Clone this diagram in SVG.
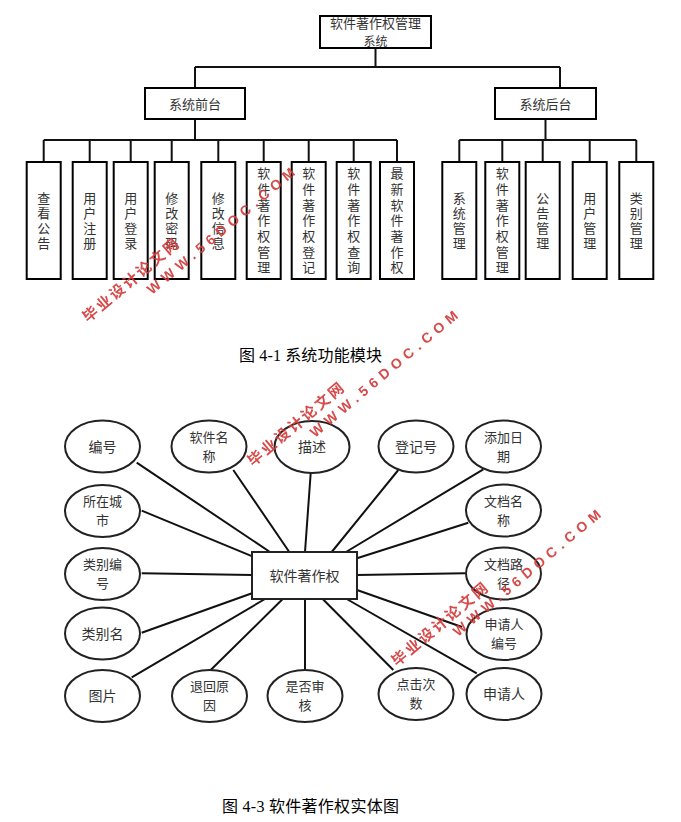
<svg xmlns="http://www.w3.org/2000/svg" width="681" height="822" viewBox="0 0 681 822">
<style>
.box{fill:#fff;stroke:#000;stroke-width:2}
.ell{fill:#fff;stroke:#222;stroke-width:2}
.ln{stroke:#111;stroke-width:2;fill:none}
.t{font-family:"Noto Sans CJK SC","Noto Sans",sans-serif;fill:#333;text-anchor:middle}
.t12{font-size:12px}
.t13{font-size:13px}
.t14{font-size:14px}
.v4{writing-mode:vertical-rl;letter-spacing:2px}
.v7{writing-mode:vertical-rl;letter-spacing:2.7px}
.cap{font-family:"Liberation Serif","Noto Sans CJK SC",serif;font-size:16px;fill:#000}
.wmc{font-family:"Noto Sans CJK SC",sans-serif;font-size:15px;font-weight:bold;fill:#d43a3a}
.wme{font-family:"Liberation Sans",sans-serif;font-size:14px;font-weight:bold;fill:#d43a3a}
</style>
<rect width="681" height="822" fill="#fff"/>

<g id="tree-connectors">
<path class="ln" d="M375.5 48V67M195 67H560M195 67V88M560 67V88"/>
<path class="ln" d="M195 119V140M43.7 140H397M43.7 140V162M89.7 140V162M130.7 140V162M171.7 140V162M218.3 140V162M263.7 140V162M308.7 140V162M353.7 140V162M397 140V162"/>
<path class="ln" d="M545.5 119V140M459.3 140H636.3M459.3 140V162M502.3 140V162M542.7 140V162M589.7 140V162M636.3 140V162"/>
</g>

<g id="root"><rect class="box" x="320" y="16" width="111" height="32"/>
<text class="t t13" x="375.5" y="28.3">软件著作权管理</text><text class="t t12" x="375.5" y="45.6">系统</text></g>
<g id="front"><rect class="box" x="145" y="88" width="100" height="31"/><text class="t t13" x="195" y="108.5">系统前台</text></g>
<g id="back"><rect class="box" x="495" y="88" width="101" height="31"/><text class="t t13" x="545.5" y="108.5">系统后台</text></g>

<g id="f1"><rect class="box" x="26.7" y="162" width="34" height="117"/><text class="t t13 v4" x="43.7" y="221.5">查看公告</text></g>
<g id="f2"><rect class="box" x="72.7" y="162" width="34" height="117"/><text class="t t13 v4" x="89.7" y="221.5">用户注册</text></g>
<g id="f3"><rect class="box" x="113.7" y="162" width="34" height="117"/><text class="t t13 v4" x="130.7" y="221.5">用户登录</text></g>
<g id="f4"><rect class="box" x="154.7" y="162" width="34" height="117"/><text class="t t13 v4" x="171.7" y="221.5">修改密码</text></g>
<g id="f5"><rect class="box" x="201.3" y="162" width="34" height="117"/><text class="t t13 v4" x="218.3" y="221.5">修改信息</text></g>
<g id="f6"><rect class="box" x="246.7" y="162" width="34" height="117"/><text class="t t13 v7" x="263.7" y="221.8">软件著作权管理</text></g>
<g id="f7"><rect class="box" x="291.7" y="162" width="34" height="117"/><text class="t t13 v7" x="308.7" y="221.8">软件著作权登记</text></g>
<g id="f8"><rect class="box" x="336.7" y="162" width="34" height="117"/><text class="t t13 v7" x="353.7" y="221.8">软件著作权查询</text></g>
<g id="f9"><rect class="box" x="380" y="162" width="34" height="117"/><text class="t t13 v7" x="397" y="221.8">最新软件著作权</text></g>

<g id="b1"><rect class="box" x="442.3" y="162" width="34" height="117"/><text class="t t13 v4" x="459.3" y="221.5">系统管理</text></g>
<g id="b2"><rect class="box" x="485.3" y="162" width="34" height="117"/><text class="t t13 v7" x="502.3" y="221.8">软件著作权管理</text></g>
<g id="b3"><rect class="box" x="525.7" y="162" width="34" height="117"/><text class="t t13 v4" x="542.7" y="221.5">公告管理</text></g>
<g id="b4"><rect class="box" x="572.7" y="162" width="34" height="117"/><text class="t t13 v4" x="589.7" y="221.5">用户管理</text></g>
<g id="b5"><rect class="box" x="619.3" y="162" width="34" height="117"/><text class="t t13 v4" x="636.3" y="221.5">类别管理</text></g>

<text id="cap1" class="cap" x="239" y="361" textLength="143" lengthAdjust="spacing">图 4-1  系统功能模块</text>

<g id="er-connectors">
<path class="ln" d="M136.7 462.7L270 552M233.3 470L289.3 552M310.7 473L305 552M398.3 470L331.7 552M483.3 469.3L346 552M141.7 510.7L253 556.7M468.3 522.7L357 558.3M141.7 573.3L252 575M465 573.3L357 575M141.7 632.7L252 593.3M357 590L462 627M131.7 677.3L265 599M210.7 670L282.7 599M305 670L305 599M322.7 599L393.3 670M346.7 599L476.7 673.3"/>
</g>

<g id="entity"><rect class="box" x="252" y="552" width="105" height="47" style="stroke:#222"/><text class="t t14" x="304.5" y="580.5">软件著作权</text></g>

<g id="a1"><ellipse class="ell" cx="102.5" cy="446.5" rx="37.5" ry="26"/><text class="t t14" x="102.5" y="451.5">编号</text></g>
<g id="a2"><ellipse class="ell" cx="209" cy="446.5" rx="37.5" ry="26"/><text class="t t13" x="209" y="441.6">软件名</text><text class="t t13" x="209" y="460.6">称</text></g>
<g id="a3"><ellipse class="ell" cx="312" cy="447" rx="37.5" ry="26"/><text class="t t14" x="312" y="452">描述</text></g>
<g id="a4"><ellipse class="ell" cx="416" cy="446.5" rx="37.5" ry="26"/><text class="t t14" x="416" y="451.5">登记号</text></g>
<g id="a5"><ellipse class="ell" cx="503.5" cy="446.5" rx="37.5" ry="26"/><text class="t t13" x="503.5" y="441.6">添加日</text><text class="t t13" x="503.5" y="460.6">期</text></g>
<g id="a6"><ellipse class="ell" cx="102.5" cy="511" rx="37.5" ry="26"/><text class="t t13" x="102.5" y="506.1">所在城</text><text class="t t13" x="102.5" y="525.1">市</text></g>
<g id="a7"><ellipse class="ell" cx="503.5" cy="510.5" rx="37.5" ry="26"/><text class="t t13" x="503.5" y="505.6">文档名</text><text class="t t13" x="503.5" y="524.6">称</text></g>
<g id="a8"><ellipse class="ell" cx="102.5" cy="574" rx="37.5" ry="26"/><text class="t t13" x="102.5" y="569.1">类别编</text><text class="t t13" x="102.5" y="588.1">号</text></g>
<g id="a9"><ellipse class="ell" cx="503.5" cy="573.5" rx="37.5" ry="26"/><text class="t t13" x="503.5" y="568.6">文档路</text><text class="t t13" x="503.5" y="587.6">径</text></g>
<g id="a10"><ellipse class="ell" cx="102.5" cy="633.5" rx="37.5" ry="26"/><text class="t t14" x="102.5" y="638.5">类别名</text></g>
<g id="a11"><ellipse class="ell" cx="504" cy="634" rx="37.5" ry="26"/><text class="t t13" x="504" y="629.1">申请人</text><text class="t t13" x="504" y="648.1">编号</text></g>
<g id="a12"><ellipse class="ell" cx="102.5" cy="696" rx="37.5" ry="26"/><text class="t t14" x="102.5" y="701">图片</text></g>
<g id="a13"><ellipse class="ell" cx="209.5" cy="696" rx="37.5" ry="26"/><text class="t t13" x="209.5" y="691.1">退回原</text><text class="t t13" x="209.5" y="710.1">因</text></g>
<g id="a14"><ellipse class="ell" cx="305" cy="696" rx="37.5" ry="26"/><text class="t t13" x="305" y="691.1">是否审</text><text class="t t13" x="305" y="710.1">核</text></g>
<g id="a15"><ellipse class="ell" cx="416" cy="694" rx="37.5" ry="26"/><text class="t t13" x="416" y="689.1">点击次</text><text class="t t13" x="416" y="708.1">数</text></g>
<g id="a16"><ellipse class="ell" cx="504" cy="694" rx="37.5" ry="26"/><text class="t t14" x="504" y="699">申请人</text></g>

<text id="cap2" class="cap" x="222" y="812" textLength="177" lengthAdjust="spacing">图 4-3  软件著作权实体图</text>

<g id="watermarks" opacity="0.92">
<text class="wmc" transform="translate(88,323) rotate(-40)" textLength="120" lengthAdjust="spacing">毕业设计论文网</text>
<text class="wme" transform="translate(152,295) rotate(-40)" textLength="188" lengthAdjust="spacing">WWW.56DOC.COM</text>
<text class="wmc" transform="translate(253,467) rotate(-40)" textLength="120" lengthAdjust="spacing">毕业设计论文网</text>
<text class="wme" transform="translate(315,438) rotate(-40)" textLength="188" lengthAdjust="spacing">WWW.56DOC.COM</text>
<text class="wmc" transform="translate(397,667) rotate(-40)" textLength="120" lengthAdjust="spacing">毕业设计论文网</text>
<text class="wme" transform="translate(458,637) rotate(-40)" textLength="188" lengthAdjust="spacing">WWW.56DOC.COM</text>
</g>
</svg>
